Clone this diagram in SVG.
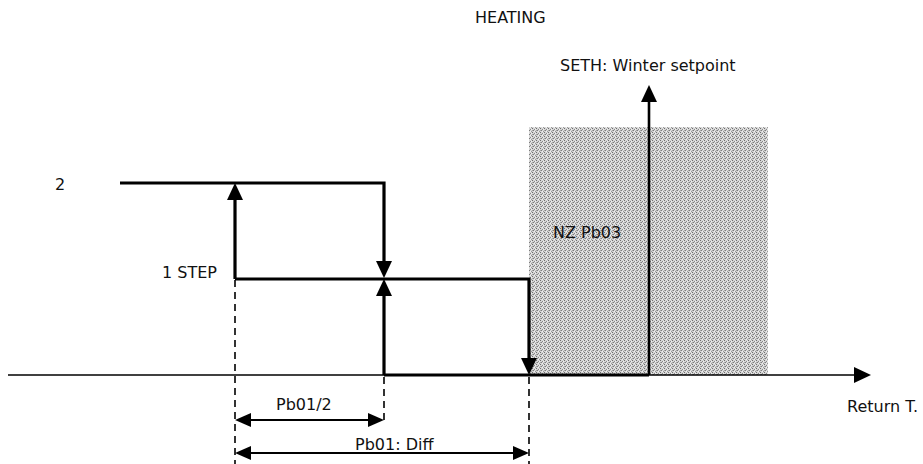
<svg xmlns="http://www.w3.org/2000/svg" width="923" height="464" viewBox="0 0 923 464">
<style>
  text { font-family: "DejaVu Sans", Verdana, sans-serif; font-size: 16px; fill: #111; }
  .thick { fill: none; stroke: #000; stroke-width: 3.2; stroke-linejoin: miter; }
  .axis { fill: none; stroke: #000; stroke-width: 1.6; }
  .dash { fill: none; stroke: #000; stroke-width: 1.6; stroke-dasharray: 7 5; }
  .dim { fill: none; stroke: #000; stroke-width: 2; }
</style>
<defs>
  <pattern id="dots" width="4" height="4" patternUnits="userSpaceOnUse">
    <rect width="4" height="4" fill="#d6d6d6"/>
    <rect x="0" y="0" width="1" height="1" fill="#6e6e6e"/>
    <rect x="2" y="1" width="1" height="1" fill="#888888"/>
    <rect x="1" y="2" width="1" height="1" fill="#7c7c7c"/>
    <rect x="3" y="3" width="1" height="1" fill="#9a9a9a"/>
    <rect x="0" y="2" width="1" height="1" fill="#a8a8a8"/>
    <rect x="2" y="3" width="1" height="1" fill="#f0f0f0"/>
    <rect x="3" y="1" width="1" height="1" fill="#eeeeee"/>
  </pattern>
  <marker id="ah" markerUnits="userSpaceOnUse" markerWidth="18" markerHeight="16" refX="11" refY="8" orient="auto-start-reverse">
    <path d="M0,0 L17,8 L0,16 z" fill="#000"/>
  </marker>
  <marker id="ahs" markerUnits="userSpaceOnUse" markerWidth="17" markerHeight="14" refX="10" refY="7" orient="auto-start-reverse">
    <path d="M0,0 L16,7 L0,14 z" fill="#000"/>
  </marker>
</defs>

<g id="neutral-zone">
  <rect x="529" y="127" width="239" height="248" fill="url(#dots)"/>
  <text x="553" y="238">NZ Pb03</text>
</g>

<g id="title">
  <text x="475" y="23">HEATING</text>
</g>

<g id="labels">
  <text x="560" y="71">SETH: Winter setpoint</text>
  <text x="55" y="190">2</text>
  <text x="162" y="278">1 STEP</text>
  <text x="847" y="412">Return T.</text>
  <text x="276" y="410">Pb01/2</text>
  <text x="355" y="450">Pb01: Diff</text>
</g>

<g id="connectors">
  <path class="axis" d="M8,375 H865" marker-end="url(#ah)"/>
  <path class="axis" d="M649,375 V91" style="stroke-width:2.6" marker-end="url(#ah)"/>
  <path class="dash" d="M235,280 V464"/>
  <path class="dash" d="M384,377 V424"/>
  <path class="dash" d="M529,377 V464"/>
  <path class="thick" d="M120,183 H384 V272" marker-end="url(#ah)"/>
  <path class="thick" d="M235,279 V189" marker-end="url(#ah)"/>
  <path class="thick" d="M235,279 H529 V369" marker-end="url(#ah)"/>
  <path class="thick" d="M384,375 V285" marker-end="url(#ah)"/>
  <path class="thick" d="M384,375 H649"/>
  <path class="dim" d="M241,420 H378" marker-start="url(#ahs)" marker-end="url(#ahs)"/>
  <path class="dim" d="M241,453 H523" marker-start="url(#ahs)" marker-end="url(#ahs)"/>
</g>
</svg>
